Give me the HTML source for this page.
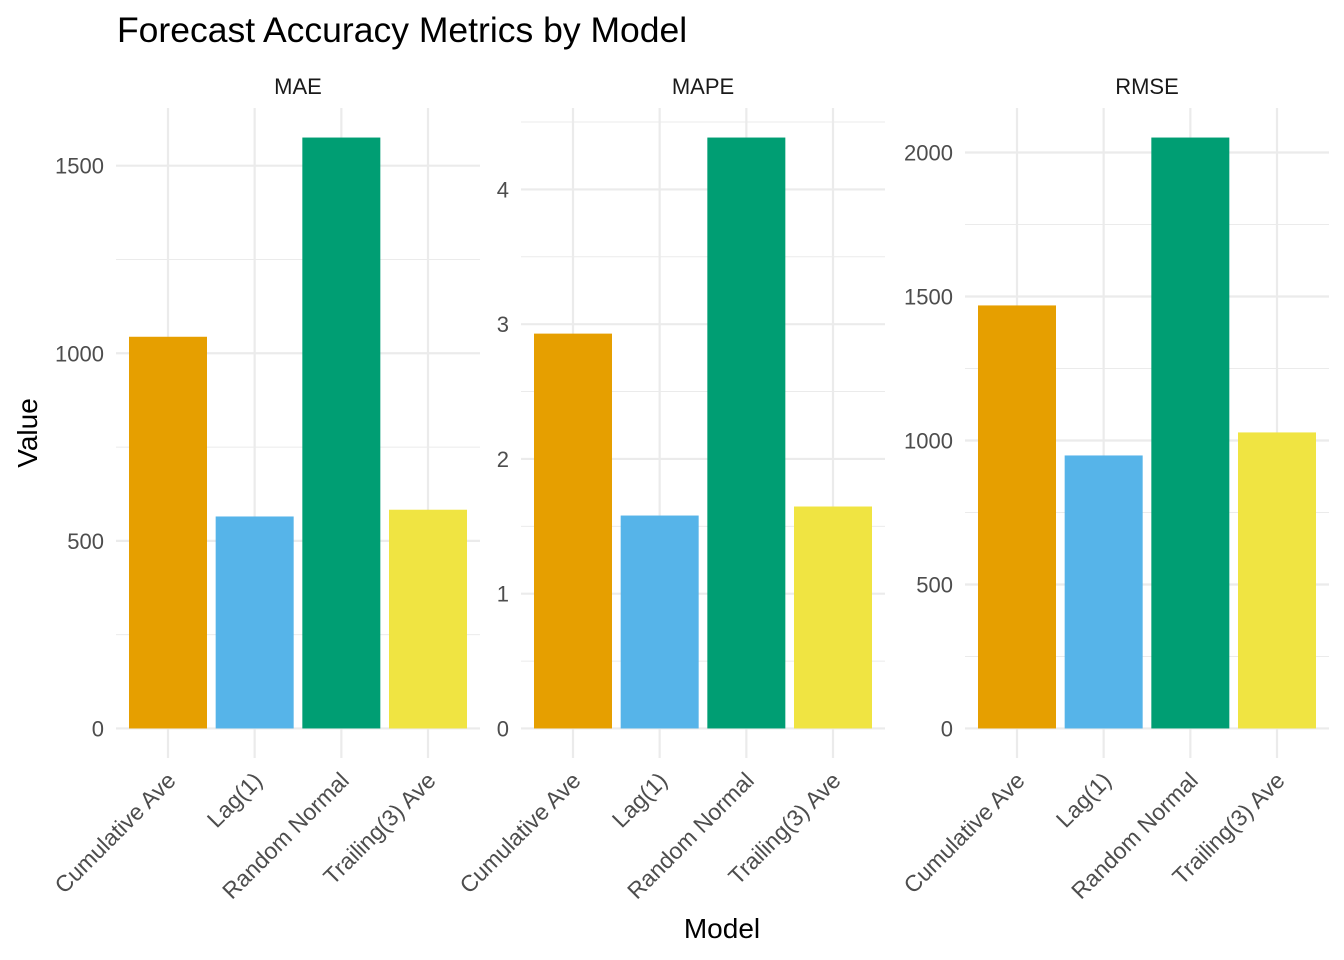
<!DOCTYPE html>
<html><head><meta charset="utf-8"><style>
body{margin:0;background:#fff}
svg{display:block;font-family:"Liberation Sans",sans-serif}
</style></head><body>
<svg id="c" width="1344" height="960">
<text x="117" y="42" font-size="35.5" fill="#000">Forecast Accuracy Metrics by Model</text>
<text x="722" y="938" font-size="28" text-anchor="middle" fill="#000">Model</text>
<text transform="translate(37,433) rotate(-90)" font-size="28" text-anchor="middle" fill="#000">Value</text>
</svg>
<script>
const categories=["Cumulative Ave","Lag(1)","Random Normal","Trailing(3) Ave"];
const colors=["#E69F00","#56B4E9","#009E73","#F0E442"];
const metrics=["MAE","MAPE","RMSE"];
const maeValues=[1044,565,1575,583];
const mapeValues=[2.93,1.58,4.385,1.647];
const rmseValues=[1469,948,2052,1028];
const maeTicks=[0,500,1000,1500];
const mapeTicks=[0,1,2,3,4];
const rmseTicks=[0,500,1000,1500,2000];
const series=[maeValues,mapeValues,rmseValues];
const ticks=[maeTicks,mapeTicks,rmseTicks];
const svgEl=document.getElementById('c');
const NS="http://www.w3.org/2000/svg";
function mk(t,a,p){const e=document.createElementNS(NS,t);for(const k in a)e.setAttribute(k,a[k]);(p||svgEl).appendChild(e);return e;}
const lefts=[116,521,965],PW=364,PT=108,PB=758;
metrics.forEach((m,pi)=>{
  const vals=series[pi],tk=ticks[pi];
  const g=mk('g',{});
  
  
  const mx=Math.max(...vals);const lo=-0.05*mx,hi=1.05*mx;
  const y=v=>PB-(v-lo)/(hi-lo)*(PB-PT);
  const L=lefts[pi],step=PW/4.2;
  const x=i=>L+(0.6+i)*step;
  const s=tk[1]-tk[0];
  for(let v=s/2;v<hi;v+=s){const l=mk('line',{x1:L,x2:L+PW,y1:y(v),y2:y(v),stroke:'#ebebeb','stroke-width':1},g);}
  tk.forEach(v=>{
    const l=mk('line',{x1:L,x2:L+PW,y1:y(v),y2:y(v),stroke:'#ebebeb','stroke-width':2.2},g);
    
    const t=mk('text',{x:L-12,y:y(v)+8,'font-size':22,fill:'#4d4d4d','text-anchor':'end'},g);
    t.textContent=v;
    
  });
  categories.forEach((c,i)=>{
    const l=mk('line',{x1:x(i),x2:x(i),y1:PT,y2:PB,stroke:'#ebebeb','stroke-width':2.2},g);
    
  });
  categories.forEach((c,i)=>{
    const bw=0.9*step;
    const r=mk('rect',{x:x(i)-bw/2,y:y(vals[i]),width:bw,height:y(0)-y(vals[i]),fill:colors[i]},g);
    
    const t=mk('text',{transform:`translate(${x(i)+9},${PB+24}) rotate(-45)`,'font-size':23,fill:'#4d4d4d','text-anchor':'end'},g);
    t.textContent=c;
    
  });
  const st=mk('text',{x:L+PW/2,y:94,'font-size':22,fill:'#1a1a1a','text-anchor':'middle'},g);
  st.textContent=m;
  
});
</script>
</body></html>
